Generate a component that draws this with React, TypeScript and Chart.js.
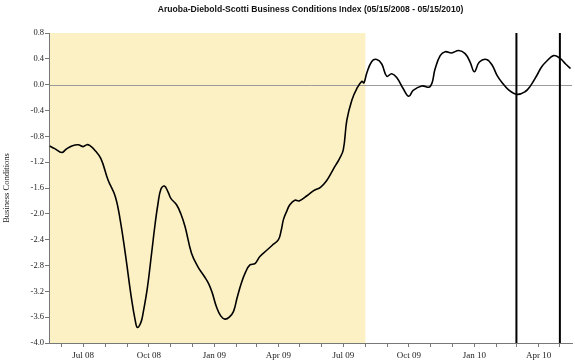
import React, { useEffect, useRef } from 'react';
import { Chart, registerables } from 'chart.js';

Chart.register(...registerables);

const titleText = 'Aruoba-Diebold-Scotti Business Conditions Index (05/15/2008 - 05/15/2010)';
const yAxisTitle = 'Business Conditions';

const dates = [
  '2008-05-15', '2008-05-22', '2008-06-01', '2008-06-07', '2008-06-15', '2008-06-24',
  '2008-07-01', '2008-07-06', '2008-07-10', '2008-07-17', '2008-07-26', '2008-08-05',
  '2008-08-15', '2008-08-22', '2008-08-29', '2008-09-07', '2008-09-12', '2008-09-15',
  '2008-09-20', '2008-09-23', '2008-09-29', '2008-10-05', '2008-10-10', '2008-10-14',
  '2008-10-18', '2008-10-23', '2008-10-28', '2008-11-01', '2008-11-09', '2008-11-15',
  '2008-11-21', '2008-11-30', '2008-12-09', '2008-12-18', '2008-12-24', '2008-12-29',
  '2009-01-04', '2009-01-10', '2009-01-16', '2009-01-22', '2009-01-28', '2009-02-02',
  '2009-02-08', '2009-02-14', '2009-02-20', '2009-02-27', '2009-03-06', '2009-03-16',
  '2009-03-23', '2009-04-01', '2009-04-05', '2009-04-08', '2009-04-13', '2009-04-17',
  '2009-04-24', '2009-04-30', '2009-05-11', '2009-05-18', '2009-05-22', '2009-05-30',
  '2009-06-08', '2009-06-14', '2009-06-19', '2009-06-25', '2009-07-01', '2009-07-06',
  '2009-07-13', '2009-07-20', '2009-07-27', '2009-07-30', '2009-08-03', '2009-08-10',
  '2009-08-17', '2009-08-24', '2009-08-31', '2009-09-07', '2009-09-14', '2009-09-23',
  '2009-10-01', '2009-10-07', '2009-10-19', '2009-10-31', '2009-11-07', '2009-11-14',
  '2009-11-21', '2009-11-30', '2009-12-10', '2009-12-19', '2009-12-26', '2010-01-01',
  '2010-01-08', '2010-01-18', '2010-01-26', '2010-02-02', '2010-02-09', '2010-02-18',
  '2010-03-02', '2010-03-13', '2010-03-20', '2010-03-30', '2010-04-05', '2010-04-13',
  '2010-04-22', '2010-05-01', '2010-05-09', '2010-05-16',
];

const values = [
  -0.95, -0.99, -1.05, -1.00, -0.95, -0.93,
  -0.96, -0.93, -0.94, -1.01, -1.15, -1.48,
  -1.73, -2.10, -2.61, -3.33, -3.65, -3.76,
  -3.68, -3.54, -3.15, -2.61, -2.15, -1.84,
  -1.62, -1.57, -1.66, -1.76, -1.86, -2.00,
  -2.20, -2.61, -2.82, -2.97, -3.08, -3.22,
  -3.44, -3.58, -3.63, -3.60, -3.51, -3.30,
  -3.07, -2.90, -2.79, -2.77, -2.66, -2.56,
  -2.49, -2.40, -2.25, -2.09, -1.95, -1.86,
  -1.79, -1.80, -1.72, -1.66, -1.63, -1.59,
  -1.48, -1.37, -1.27, -1.16, -1.01, -0.55,
  -0.24, -0.06, 0.05, 0.03, 0.18, 0.36,
  0.39, 0.32, 0.13, 0.17, 0.11, -0.06,
  -0.18, -0.09, -0.02, -0.03, 0.25, 0.45,
  0.51, 0.49, 0.53, 0.48, 0.35, 0.20,
  0.35, 0.39, 0.30, 0.14, 0.03, -0.08,
  -0.15, -0.11, -0.03, 0.15, 0.27, 0.37,
  0.45, 0.41, 0.32, 0.25,
];

const axisStart = '2008-05-14';
const axisEnd = '2010-05-18';
const shadeEnd = '2009-08-01';
const markerDates = ['2010-03-01', '2010-05-01'];
const yTickValues = [-4.0, -3.6, -3.2, -2.8, -2.4, -2.0, -1.6, -1.2, -0.8, -0.4, 0.0, 0.4, 0.8];
const monthNames = ['Jan', 'Feb', 'Mar', 'Apr', 'May', 'Jun', 'Jul', 'Aug', 'Sep', 'Oct', 'Nov', 'Dec'];
const labelMonths = [0, 3, 6, 9];

const DAY = 86400000;
const toDay = (s: string) => {
  const [y, m, d] = s.split('-').map(Number);
  return Date.UTC(y, m - 1, d) / DAY;
};

function monthStarts(min: number, max: number) {
  const out: number[] = [];
  const start = new Date(min * DAY);
  let y = start.getUTCFullYear();
  let m = start.getUTCMonth();
  for (;;) {
    const v = Date.UTC(y, m, 1) / DAY;
    if (v > max) break;
    if (v >= min) out.push(v);
    m++;
    if (m > 11) { m = 0; y++; }
  }
  return out;
}

export default function App() {
  const ref = useRef<HTMLCanvasElement | null>(null);

  useEffect(() => {
    document.body.style.margin = '0';
    const canvas = ref.current;
    if (!canvas) return;

    const xMin = toDay(axisStart);
    const xMax = toDay(axisEnd);
    const points = dates.map((d, i) => ({ x: toDay(d), y: values[i] }));

    const decor = {
      id: 'decor',
      beforeDraw(chart: any) {
        const { ctx, chartArea, scales } = chart;
        const x = scales.x;
        const y = scales.y;
        ctx.save();
        ctx.fillStyle = '#fcf1c4';
        const xs = x.getPixelForValue(xMin);
        const xe = x.getPixelForValue(toDay(shadeEnd));
        ctx.fillRect(xs, chartArea.top, xe - xs, chartArea.bottom - chartArea.top);
        const y0 = Math.round(y.getPixelForValue(0)) + 0.5;
        ctx.strokeStyle = '#9a9a9a';
        ctx.lineWidth = 1;
        ctx.beginPath();
        ctx.moveTo(chartArea.left, y0);
        ctx.lineTo(chartArea.right, y0);
        ctx.stroke();
        ctx.restore();
      },
      afterDatasetsDraw(chart: any) {
        const { ctx, chartArea, scales } = chart;
        ctx.save();
        ctx.strokeStyle = '#000';
        ctx.lineWidth = 2;
        markerDates.forEach((d) => {
          const px = scales.x.getPixelForValue(toDay(d));
          ctx.beginPath();
          ctx.moveTo(px, chartArea.top);
          ctx.lineTo(px, chartArea.bottom);
          ctx.stroke();
        });
        ctx.restore();
      },
      afterDraw(chart: any) {
        const { ctx, chartArea } = chart;
        ctx.save();
        ctx.fillStyle = '#111';
        ctx.font = "bold 8.6px 'Liberation Sans', Arial, sans-serif";
        ctx.textAlign = 'center';
        ctx.textBaseline = 'middle';
        ctx.fillText(titleText, (chartArea.left + chartArea.right) / 2, 10);
        ctx.translate(7, (chartArea.top + chartArea.bottom) / 2);
        ctx.rotate(-Math.PI / 2);
        ctx.font = "8.5px 'Liberation Serif', 'Times New Roman', serif";
        ctx.fillStyle = '#222';
        ctx.fillText(yAxisTitle, 0, 0);
        ctx.restore();
      },
    };

    const chart = new Chart(canvas, {
      type: 'line',
      data: {
        datasets: [
          {
            data: points,
            borderColor: '#000',
            borderWidth: 1.6,
            pointRadius: 0,
            tension: 0.4,
            fill: false,
          },
        ],
      },
      options: {
        animation: false,
        responsive: false,
        parsing: false as any,
        layout: { padding: { top: 33, left: 0, right: 3, bottom: 0 } },
        plugins: {
          legend: { display: false },
          title: { display: false },
          tooltip: { enabled: false },
        },
        scales: {
          x: {
            type: 'linear',
            min: xMin,
            max: xMax,
            afterBuildTicks: (scale: any) => {
              scale.ticks = monthStarts(xMin, xMax).map((v) => ({ value: v }));
            },
            afterFit: (scale: any) => {
              scale.height = 20;
            },
            grid: {
              drawOnChartArea: false,
              drawTicks: true,
              tickLength: 4,
              color: '#777',
            },
            border: { color: '#777', width: 1 },
            ticks: {
              autoSkip: false,
              maxRotation: 0,
              minRotation: 0,
              padding: 3,
              color: '#222',
              font: { family: "'Liberation Serif', 'Times New Roman', serif", size: 9 },
              callback: (value: any) => {
                const d = new Date(Number(value) * DAY);
                const m = d.getUTCMonth();
                if (!labelMonths.includes(m)) return '';
                return `${monthNames[m]} ${String(d.getUTCFullYear() % 100).padStart(2, '0')}`;
              },
            },
          },
          y: {
            type: 'linear',
            min: -4.0,
            max: 0.8,
            afterBuildTicks: (scale: any) => {
              scale.ticks = yTickValues.map((v) => ({ value: v }));
            },
            afterFit: (scale: any) => {
              scale.width = 49;
            },
            grid: {
              drawOnChartArea: false,
              drawTicks: true,
              tickLength: 4,
              color: '#777',
            },
            border: { color: '#777', width: 1 },
            ticks: {
              padding: 1,
              color: '#222',
              font: { family: "'Liberation Serif', 'Times New Roman', serif", size: 8.5 },
              callback: (value: any) => Number(value).toFixed(1),
            },
          },
        },
      },
      plugins: [decor],
    });

    return () => chart.destroy();
  }, []);

  return <canvas ref={ref} width={575} height={363} style={{ display: 'block' }} />;
}
